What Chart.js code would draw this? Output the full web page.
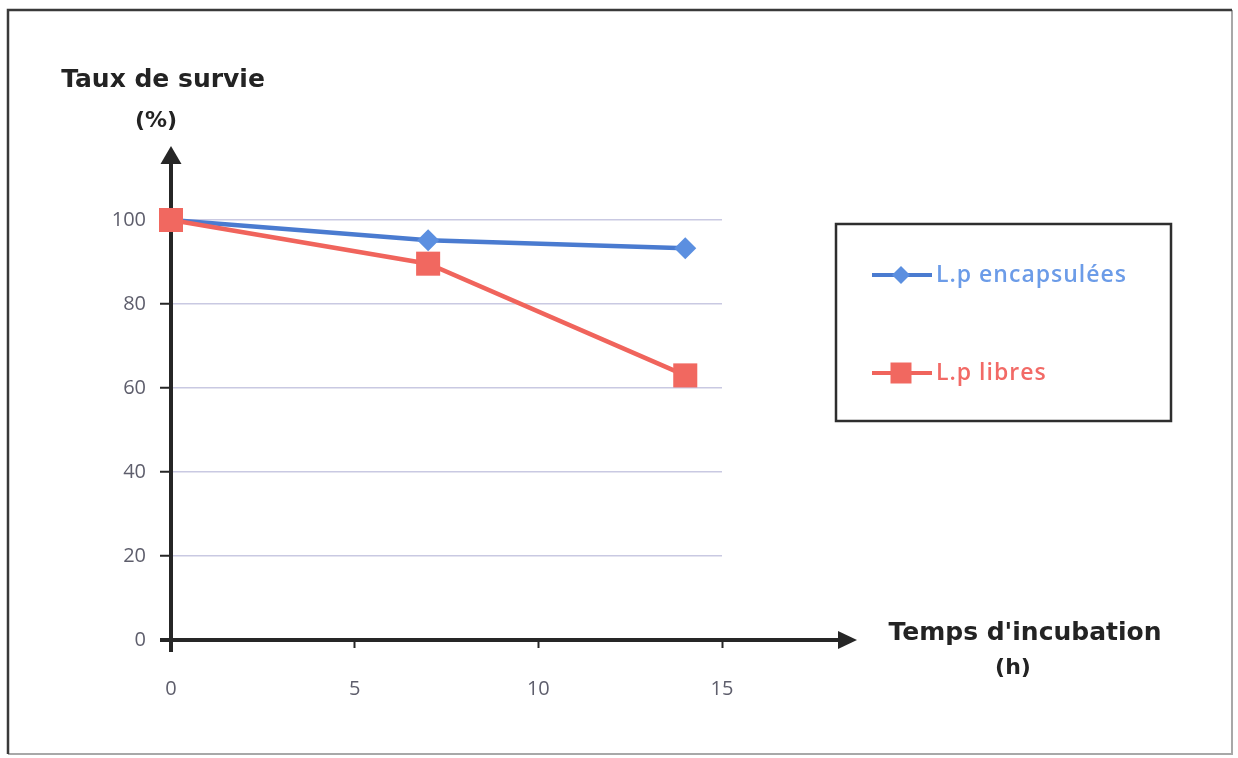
<!DOCTYPE html>
<html>
<head>
<meta charset="utf-8">
<script src="https://cdn.jsdelivr.net/npm/chart.js@4.4.1/dist/chart.umd.min.js"></script>
<style>
  html, body { margin: 0; padding: 0; background: #ffffff; }
  canvas { display: block; }
</style>
</head>
<body>
<canvas id="survie" width="1238" height="758"></canvas>
<script>
// Survival rate (%) of L. plantarum over incubation time (h)
const hours = [0, 7, 14];
const encapsulees = [100, 95.2, 93.3];
const libres = [100, 89.6, 63];
const seriesNames = ['L.p encapsulées', 'L.p libres'];
const xTickValues = [0, 5, 10, 15];
const yTickValues = [0, 20, 40, 60, 80, 100];
const yTitleLines = ['Taux de survie', '(%)'];
const xTitleLines = ["Temps d'incubation", '(h)'];

const BLUE_LINE = '#4a7bd0';
const BLUE_MARK = '#5b8fe0';
const BLUE_TEXT = '#6c9ce8';
const RED_LINE = '#f0645c';
const RED_MARK = '#f16860';
const RED_TEXT = '#f26a66';
const AXIS = '#262626';
const TICK_TEXT = '#5e5e6c';

const toPoints = (xs, ys) => xs.map((x, i) => ({ x, y: ys[i] }));

// Outer frame around the whole figure
const framePlugin = {
  id: 'frame',
  beforeDraw(chart) {
    const ctx = chart.ctx;
    ctx.save();
    ctx.fillStyle = '#ffffff';
    ctx.fillRect(0, 0, chart.width, chart.height);
    ctx.lineWidth = 2;
    ctx.strokeStyle = '#a8a8a8';
    ctx.beginPath();
    ctx.moveTo(1232, 10); ctx.lineTo(1232, 754); ctx.lineTo(8, 754);
    ctx.stroke();
    ctx.strokeStyle = '#3a3a3a';
    ctx.lineWidth = 2.5;
    ctx.beginPath();
    ctx.moveTo(8, 754); ctx.lineTo(8, 10); ctx.lineTo(1232, 10);
    ctx.stroke();
    ctx.restore();
  }
};

// Axis lines with arrow heads, drawn under the series
const arrowAxesPlugin = {
  id: 'arrowAxes',
  beforeDatasetsDraw(chart) {
    const { ctx, chartArea: a } = chart;
    const x0 = chart.scales.x.getPixelForValue(0);
    const y0 = chart.scales.y.getPixelForValue(0);
    ctx.save();
    ctx.strokeStyle = AXIS;
    ctx.fillStyle = AXIS;
    ctx.lineWidth = 4;
    // vertical axis
    ctx.beginPath();
    ctx.moveTo(x0, y0 + 12);
    ctx.lineTo(x0, a.top - 56);
    ctx.stroke();
    ctx.beginPath();
    ctx.moveTo(x0, a.top - 74);
    ctx.lineTo(x0 - 10.5, a.top - 56);
    ctx.lineTo(x0 + 10.5, a.top - 56);
    ctx.closePath();
    ctx.fill();
    // horizontal axis
    ctx.beginPath();
    ctx.moveTo(x0 - 11, y0);
    ctx.lineTo(a.right + 118, y0);
    ctx.stroke();
    ctx.beginPath();
    ctx.moveTo(a.right + 135, y0);
    ctx.lineTo(a.right + 116, y0 - 9);
    ctx.lineTo(a.right + 116, y0 + 9);
    ctx.closePath();
    ctx.fill();
    ctx.restore();
  }
};

// Axis titles and the boxed legend
const annotationsPlugin = {
  id: 'annotations',
  afterDraw(chart) {
    const ctx = chart.ctx;
    ctx.save();
    ctx.fillStyle = '#232323';
    ctx.textAlign = 'center';
    ctx.textBaseline = 'middle';
    ctx.font = 'bold 25px "DejaVu Sans"';
    ctx.fillText(yTitleLines[0], 163, 80);
    ctx.font = 'bold 22px "DejaVu Sans"';
    ctx.fillText(yTitleLines[1], 156, 121);
    ctx.font = 'bold 25px "DejaVu Sans"';
    ctx.fillText(xTitleLines[0], 1025, 633);
    ctx.font = 'bold 22px "DejaVu Sans"';
    ctx.fillText(xTitleLines[1], 1013, 668);

    // legend box
    ctx.lineWidth = 2.5;
    ctx.strokeStyle = '#2e2e2e';
    ctx.strokeRect(836, 224, 335, 197);

    const rows = [
      { y: 275, line: BLUE_LINE, mark: BLUE_MARK, text: BLUE_TEXT, shape: 'diamond' },
      { y: 373, line: RED_LINE, mark: RED_MARK, text: RED_TEXT, shape: 'square' }
    ];
    rows.forEach((r, i) => {
      ctx.strokeStyle = r.line;
      ctx.lineWidth = 4;
      ctx.beginPath();
      ctx.moveTo(872, r.y);
      ctx.lineTo(932, r.y);
      ctx.stroke();
      ctx.fillStyle = r.mark;
      ctx.beginPath();
      if (r.shape === 'diamond') {
        ctx.moveTo(901, r.y - 9);
        ctx.lineTo(910, r.y);
        ctx.lineTo(901, r.y + 9);
        ctx.lineTo(892, r.y);
      } else {
        ctx.rect(890.5, r.y - 10.5, 21, 21);
      }
      ctx.closePath();
      ctx.fill();
      ctx.fillStyle = r.text;
      ctx.textAlign = 'left';
      ctx.font = '600 23px "Open Sans"';
      ctx.letterSpacing = '1px';
      ctx.fillText(seriesNames[i], 936, r.y);
      ctx.letterSpacing = '0px';
    });
    ctx.restore();
  }
};

new Chart(document.getElementById('survie'), {
  type: 'line',
  data: {
    datasets: [
      {
        label: seriesNames[0],
        data: toPoints(hours, encapsulees),
        borderColor: BLUE_LINE,
        backgroundColor: BLUE_MARK,
        borderWidth: 4.5,
        pointStyle: 'rectRot',
        pointRadius: 11,
        pointBorderWidth: 0,
        pointBackgroundColor: BLUE_MARK,
        tension: 0,
        clip: false,
        order: 2
      },
      {
        label: seriesNames[1],
        data: toPoints(hours, libres),
        borderColor: RED_LINE,
        backgroundColor: RED_MARK,
        borderWidth: 4.5,
        pointStyle: 'rect',
        pointRadius: 17,
        pointBorderWidth: 0,
        pointBackgroundColor: RED_MARK,
        tension: 0,
        clip: false,
        order: 1
      }
    ]
  },
  options: {
    responsive: false,
    animation: false,
    events: [],
    layout: { padding: { top: 220, right: 516, left: 0, bottom: 0 } },
    plugins: { legend: { display: false }, tooltip: { enabled: false } },
    scales: {
      x: {
        type: 'linear',
        min: 0,
        max: 15,
        afterFit(scale) { scale.height = 118; },
        afterBuildTicks(scale) { scale.ticks = xTickValues.map(v => ({ value: v })); },
        border: { display: false },
        grid: { drawOnChartArea: false, tickLength: 8, tickColor: AXIS, tickWidth: 2 },
        ticks: { padding: 29, color: TICK_TEXT, font: { family: '"Open Sans"', size: 20 } }
      },
      y: {
        type: 'linear',
        min: 0,
        max: 100,
        afterFit(scale) { scale.width = 171; },
        afterBuildTicks(scale) { scale.ticks = yTickValues.map(v => ({ value: v })); },
        border: { display: false },
        grid: { color: '#c9c9e2', lineWidth: 1.5, tickLength: 11, tickColor: AXIS, tickWidth: 2 },
        ticks: { padding: 14, color: TICK_TEXT, font: { family: '"Open Sans"', size: 20 } }
      }
    }
  },
  plugins: [framePlugin, arrowAxesPlugin, annotationsPlugin]
});
</script>
</body>
</html>
